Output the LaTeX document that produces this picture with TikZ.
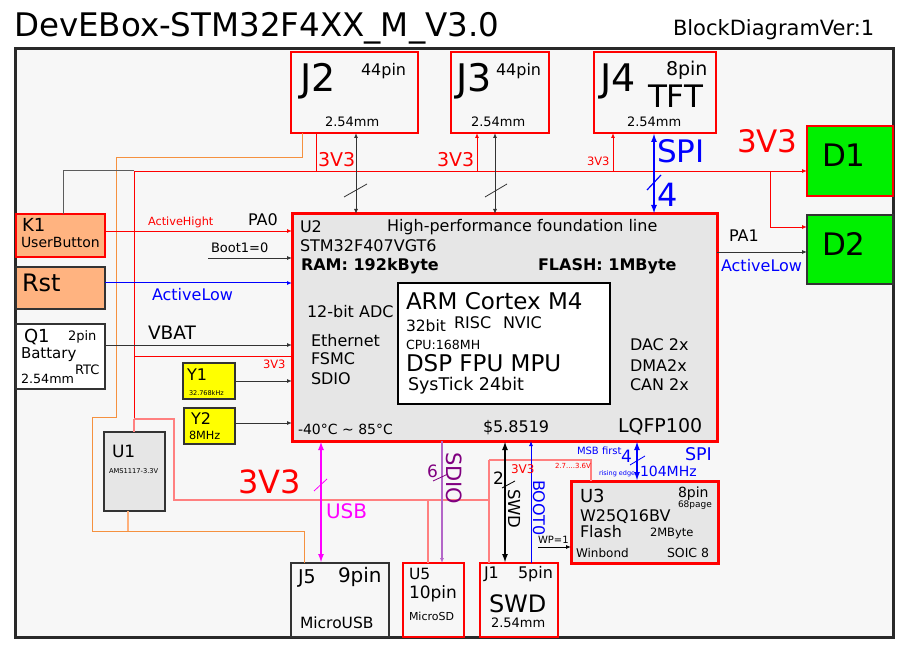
\documentclass[tikz,border=0pt]{standalone}
\usepackage{fontspec}
\setmainfont{DejaVu Sans}
\usetikzlibrary{arrows.meta}
\definecolor{bg}{HTML}{F7F7F7}
\definecolor{dk}{HTML}{333333}
\definecolor{ubox}{HTML}{E6E6E6}
\definecolor{peach}{HTML}{FFB380}
\definecolor{grn}{HTML}{00F000}
\definecolor{yel}{HTML}{FFFF00}
\definecolor{rd}{HTML}{FF0000}
\definecolor{pk}{HTML}{FF8080}
\definecolor{org}{HTML}{F5913F}
\definecolor{orgl}{HTML}{FFB07A}
\definecolor{mag}{HTML}{FF00FF}
\definecolor{pur}{HTML}{800080}
\definecolor{purl}{HTML}{B366C8}
\definecolor{bl}{HTML}{0000FF}
\newcommand\fsz[1]{\fontsize{#1}{#1}\selectfont}
\begin{document}
\begin{tikzpicture}[x=1pt,y=-1pt,
  >={Latex[length=5pt,width=4pt]},
  txt/.style={anchor=base west,inner sep=0,outer sep=0},
  box/.style={rectangle,inner sep=0,outer sep=0,line width=2pt},
  rbox/.style={box,draw=rd},
  dbox/.style={box,draw=dk},
  rw/.style={draw=rd,line width=0.9pt},
  pw/.style={draw=pk,line width=1.2pt},
  ow/.style={draw=org,line width=1pt},
  gw/.style={draw=dk,line width=1pt},
  bw/.style={draw=bl,line width=1pt},
  bigarr/.style={line width=2pt,{Latex[length=9pt,width=6pt]}-{Latex[length=9pt,width=6pt]}},
  slash/.style={line width=0.8pt}]
\useasboundingbox (0,0) rectangle (903,663);
\fill[white] (0,0) rectangle (903,663);
% frame
\node[box,draw=dk!80!black,line width=3pt,fill=bg,minimum width=878,minimum height=588] (frame) at (454,343) {};
% title
\node[txt] (title) at (14,37) {\fsz{32.5}DevEBox-STM32F4XX\_M\_V3.0};
\node[txt] (ver) at (673,36) {\fsz{21}BlockDiagramVer:1};

% boxes
\node[rbox,fill=bg,minimum width=127,minimum height=81] (J2) at (354.5,92.5) {};
\node[rbox,fill=bg,minimum width=98,minimum height=81] (J3) at (500,92.5) {};
\node[rbox,fill=bg,minimum width=122,minimum height=81] (J4) at (655,92.5) {};
\node[rbox,fill=grn,minimum width=86,minimum height=70] (D1) at (850,161) {};
\node[dbox,fill=grn,minimum width=86,minimum height=69] (D2) at (850,249.5) {};
\node[rbox,fill=peach,minimum width=89,minimum height=43] (K1) at (60.5,235.5) {};
\node[dbox,fill=peach,minimum width=89,minimum height=42] (Rst) at (60.5,288) {};
\node[dbox,fill=white,minimum width=89,minimum height=65] (Q1) at (60.5,356.5) {};
\node[dbox,fill=yel,minimum width=52,minimum height=36] (Y1) at (209,381) {};
\node[dbox,fill=yel,minimum width=51,minimum height=36] (Y2) at (209.5,426) {};
\node[dbox,fill=ubox,minimum width=61,minimum height=79] (U1) at (134.5,471.5) {};
\node[rbox,line width=3pt,fill=ubox,minimum width=425,minimum height=227] (U2) at (504.5,327.5) {};
\node[box,draw=black,fill=white,minimum width=212,minimum height=121] (core) at (504,343.5) {};
\node[dbox,fill=bg,minimum width=98,minimum height=74] (J5) at (340,600) {};
\node[rbox,fill=bg,minimum width=61,minimum height=74] (U5) at (433.5,600) {};
\node[rbox,fill=bg,minimum width=78,minimum height=74] (J1) at (519,600) {};
\node[rbox,line width=3pt,fill=ubox,minimum width=147,minimum height=82] (U3) at (644.5,522) {};

% coordinates
\coordinate (v3a) at (134,171);
\coordinate (xk1) at (63,0);
\coordinate (xj2p) at (316,0);
\coordinate (xj3p) at (477,0);
\coordinate (xj4p) at (613,0);
\coordinate (d2b) at (770,171);
\coordinate (yd2) at (0,227);
\coordinate (y356) at (134,356);
\coordinate (b1) at (134,419);
\coordinate (b2) at (174,500);
\coordinate (b3) at (489,500);
\coordinate (b4) at (489,460);
\coordinate (b5) at (591,460);
\coordinate (xu5) at (428,500);
\coordinate (o1) at (302,158);
\coordinate (o2) at (116,417);
\coordinate (o3) at (92,531);
\coordinate (o4) at (304,531);
\coordinate (xu1) at (128,531);
\coordinate (ypa0) at (0,231);
\coordinate (bt) at (208,258);
\coordinate (yrst) at (0,283);
\coordinate (yvb) at (0,345);
\coordinate (yy1) at (0,381);
\coordinate (yy2) at (0,423);
\coordinate (ypa1) at (0,252);
\coordinate (xa2) at (356,0);
\coordinate (xa3) at (495,0);
\coordinate (xa4) at (654,0);
\coordinate (xusb) at (321,0);
\coordinate (xsd) at (442,0);
\coordinate (xswd) at (505,0);
\coordinate (xbt0) at (531,0);
\coordinate (wp) at (538,547);
\coordinate (xspi) at (637,0);

% power wires
\draw[ow] (J2.south -| o1) -- (o1) -| (o2) -| (o3) -- (o4) -- (J5.north -| o4);
\draw[draw=orgl,line width=1.2pt] (U1.south -| xu1) -- (xu1);
\draw[gw,draw=dk!80] (K1.north -| xk1) |- (v3a);
\draw[rw,->] (v3a) -- (D1.west |- v3a);
\draw[rw] (J2.south -| xj2p) -- (v3a -| xj2p);
\draw[rw,->] (v3a -| xj3p) -- (J3.south -| xj3p);
\draw[rw,->] (v3a -| xj4p) -- (J4.south -| xj4p);
\draw[rw,->] (d2b) |- (D2.west |- yd2);
\draw[rw] (v3a) -- (b1);
\draw[pw] (b1) -- (U1.north -| b1);
\draw[rw] (y356) -- (U2.west |- y356);
\draw[pw] (b1) -| (b2) -- (b3);
\draw[pw] (xu5) -- (U5.north -| xu5);
\draw[pw] (b4) -- (J1.north -| b4);
\draw[pw] (b4) -| (U3.north -| b5);

% signal wires
\draw[rw,->] (K1.east |- ypa0) -- (U2.west |- ypa0);
\draw[gw,line width=0.8pt,->] (bt) -- (U2.west |- bt);
\draw[bw,->] (Rst.east |- yrst) -- (U2.west |- yrst);
\draw[gw,->] (Q1.east |- yvb) -- (U2.west |- yvb);
\draw[gw,->] (Y1.east |- yy1) -- (U2.west |- yy1);
\draw[gw,->] (Y2.east |- yy2) -- (U2.west |- yy2);
\draw[gw,line width=0.8pt,->] (U2.east |- ypa1) -- (D2.west |- ypa1);
\draw[gw,line width=1pt,<->] (J2.south -| xa2) -- (U2.north -| xa2);
\draw[gw,line width=1pt,<->] (J3.south -| xa3) -- (U2.north -| xa3);
\draw[bigarr,draw=bl,fill=bl] (J4.south -| xa4) -- (U2.north -| xa4);
\draw[bigarr,draw=mag,fill=mag] (U2.south -| xusb) -- (J5.north -| xusb);
\draw[draw=purl,line width=1.5pt,->] (U2.south -| xsd) -- (U5.north -| xsd);
\draw[bigarr,draw=black,fill=black] (U2.south -| xswd) -- (J1.north -| xswd);
\draw[bw,line width=0.8pt,->] (J1.north -| xbt0) -- (U2.south -| xbt0);
\draw[draw=black,line width=0.8pt,->] (wp) -- (U3.west |- wp);
\draw[bigarr,draw=bl,fill=bl] (U2.south -| xspi) -- (U3.north -| xspi);

% bus slashes
\draw[slash,dk] (344,197) -- (367,184);
\draw[slash,dk] (485,197) -- (507,184);
\draw[slash,bl,line width=1.2pt] (647,190) -- (661,175);
\draw[slash,mag] (314,491) -- (327,479);
\draw[slash,pur] (433,481) -- (448,474);
\draw[slash,black] (502,488) -- (515,481);
\draw[slash,bl] (630,465) -- (645,456);

% texts J2 J3 J4
\node[txt] (tJ2) at (300,92) {\fsz{38}J2};
\node[txt] (tJ2p) at (361,76) {\fsz{16}44pin};
\node[txt] (tJ2m) at (325,127) {\fsz{13}2.54mm};
\node[txt] (tJ3) at (456,92) {\fsz{38}J3};
\node[txt] (tJ3p) at (496,76) {\fsz{16}44pin};
\node[txt] (tJ3m) at (471,127) {\fsz{13}2.54mm};
\node[txt] (tJ4) at (600,92) {\fsz{38}J4};
\node[txt] (tJ4p) at (666,76) {\fsz{19}8pin};
\node[txt] (tJ4t) at (648,108) {\fsz{31}TFT};
\node[txt] (tJ4m) at (627,127) {\fsz{13}2.54mm};
\node[txt,text=rd] (v1) at (318,167) {\fsz{19}3V3};
\node[txt,text=rd] (v2) at (437,167) {\fsz{19}3V3};
\node[txt,text=rd] (v3) at (587,166) {\fsz{11.5}3V3};
\node[txt,text=bl] (spi1) at (657,163) {\fsz{31}SPI};
\node[txt,text=bl] (four1) at (657,207) {\fsz{32}4};
% D1 D2
\node[txt,text=rd] (v4) at (737,153) {\fsz{31}3V3};
\node[txt] (tD1) at (822,167) {\fsz{31}D1};
\node[txt] (tD2) at (822,256) {\fsz{31}D2};
\node[txt] (pa1) at (729,242) {\fsz{16}PA1};
\node[txt,text=bl] (al2) at (721,272) {\fsz{16}ActiveLow};
% left
\node[txt] (tK1) at (22,232) {\fsz{18}K1};
\node[txt] (tK1b) at (21,248) {\fsz{14}UserButton};
\node[txt] (tRst) at (22,291) {\fsz{24}Rst};
\node[txt] (tQ1) at (24,342) {\fsz{18}Q1};
\node[txt] (tQ1p) at (68,341) {\fsz{13}2pin};
\node[txt] (tQ1b) at (21,358) {\fsz{15}Battary};
\node[txt] (tQ1r) at (75,374) {\fsz{13}RTC};
\node[txt] (tQ1m) at (21,383) {\fsz{12.7}2.54mm};
\node[txt,text=rd] (ah) at (148,226) {\fsz{11.3}ActiveHight};
\node[txt] (pa0) at (248,226) {\fsz{16}PA0};
\node[txt] (b1t) at (211,253) {\fsz{13}Boot1=0};
\node[txt,text=bl] (al1) at (152,301) {\fsz{16}ActiveLow};
\node[txt] (vbat) at (148,339) {\fsz{18.5}VBAT};
\node[txt,text=rd] (v5) at (263,368) {\fsz{11.5}3V3};
\node[txt] (tY1) at (187,380) {\fsz{16}Y1};
\node[txt] (tY1f) at (189,395) {\fsz{6.5}32.768kHz};
\node[txt] (tY2) at (191,424) {\fsz{16}Y2};
\node[txt] (tY2f) at (189,439) {\fsz{11.3}8MHz};
\node[txt] (tU1) at (112,457) {\fsz{17}U1};
\node[txt] (tU1b) at (109,473) {\fsz{6.7}AMS1117-3.3V};
\node[txt,text=rd] (v6) at (238,493) {\fsz{32}3V3};
% U2
\node[txt] (tU2) at (300,233) {\fsz{16}U2};
\node[txt] (hp) at (387,232) {\fsz{16}High-performance foundation line};
\node[txt] (stm) at (300,252) {\fsz{16}STM32F407VGT6};
\node[txt] (ram) at (301,271) {\fsz{16}\bfseries RAM: 192kByte};
\node[txt] (fla) at (538,271) {\fsz{16}\bfseries FLASH: 1MByte};
\node[txt] (adc) at (307,317) {\fsz{16}12-bit ADC};
\node[txt] (eth) at (311,346) {\fsz{16}Ethernet};
\node[txt] (fsmc) at (311,364) {\fsz{16}FSMC};
\node[txt] (sdio1) at (311,384) {\fsz{16}SDIO};
\node[txt] (dac) at (630,351) {\fsz{16}DAC 2x};
\node[txt] (dma) at (630,371) {\fsz{16}DMA2x};
\node[txt] (can) at (630,390) {\fsz{16}CAN 2x};
\node[txt] (temp) at (298,434) {\fsz{14}-40°C \textasciitilde{} 85°C};
\node[txt] (price) at (483,432) {\fsz{16}\$5.8519};
\node[txt] (lq) at (618,432) {\fsz{19}LQFP100};
\node[txt] (arm) at (406,310) {\fsz{23}ARM Cortex M4};
\node[txt] (b32) at (406,331) {\fsz{15.5}32bit};
\node[txt] (risc) at (454,329) {\fsz{16}RISC};
\node[txt] (nvic) at (503,329) {\fsz{16}NVIC};
\node[txt] (cpu) at (406,349) {\fsz{12.6}CPU:168MH};
\node[txt] (dsp) at (406,371) {\fsz{23}DSP FPU MPU};
\node[txt] (syst) at (408,390) {\fsz{17.5}SysTick 24bit};
% bottom
\node[txt,text=mag] (usb) at (326,518) {\fsz{20}USB};
\node[txt,text=pur] (six) at (427,477) {\fsz{17}6};
\node[txt,text=pur,rotate=-90] (sdio2) at (446,452) {\fsz{21}SDIO};
\node[txt] (two) at (493,484) {\fsz{17}2};
\node[txt,rotate=-90] (swdv) at (508,489) {\fsz{16.5}SWD};
\node[txt,text=bl,rotate=-90] (boot0) at (533,480) {\fsz{16}BOOT0};
\node[txt] (wpt) at (538,543) {\fsz{10}WP=1};
\node[txt,text=rd] (v7) at (511,473) {\fsz{12}3V3};
\node[txt,text=rd] (rng) at (555,468) {\fsz{7}2.7....3.6V};
\node[txt,text=bl] (msb) at (577,454) {\fsz{10}MSB first};
\node[txt,text=bl] (rise) at (599,475) {\fsz{6.5}rising edge};
\node[txt,text=bl] (four2) at (621,462) {\fsz{17}4};
\node[txt,text=bl] (mhz) at (640,476) {\fsz{14}104MHz};
\node[txt,text=bl] (spi2) at (685,460) {\fsz{17.5}SPI};
\node[txt] (tU3) at (580,502) {\fsz{18}U3};
\node[txt] (tU3p) at (678,497) {\fsz{14}8pin};
\node[txt] (tU3g) at (678,507) {\fsz{9}68page};
\node[txt] (tU3n) at (580,521) {\fsz{16}W25Q16BV};
\node[txt] (tU3f) at (580,537) {\fsz{16}Flash};
\node[txt] (tU3s) at (650,536) {\fsz{11.5}2MByte};
\node[txt] (tU3w) at (576,557) {\fsz{12}Winbond};
\node[txt] (tU3o) at (667,557) {\fsz{12.5}SOIC 8};
\node[txt] (tJ5) at (298,583) {\fsz{19}J5};
\node[txt] (tJ5p) at (338,582) {\fsz{20}9pin};
\node[txt] (tJ5u) at (300,628) {\fsz{15.5}MicroUSB};
\node[txt] (tU5) at (409,579) {\fsz{15.5}U5};
\node[txt] (tU5p) at (409,598) {\fsz{17}10pin};
\node[txt] (tU5m) at (409,620) {\fsz{11}MicroSD};
\node[txt] (tJ1) at (484,578) {\fsz{16}J1};
\node[txt] (tJ1p) at (518,578) {\fsz{16}5pin};
\node[txt] (tJ1s) at (489,612) {\fsz{24}SWD};
\node[txt] (tJ1m) at (491,627) {\fsz{13}2.54mm};
\end{tikzpicture}
\end{document}
